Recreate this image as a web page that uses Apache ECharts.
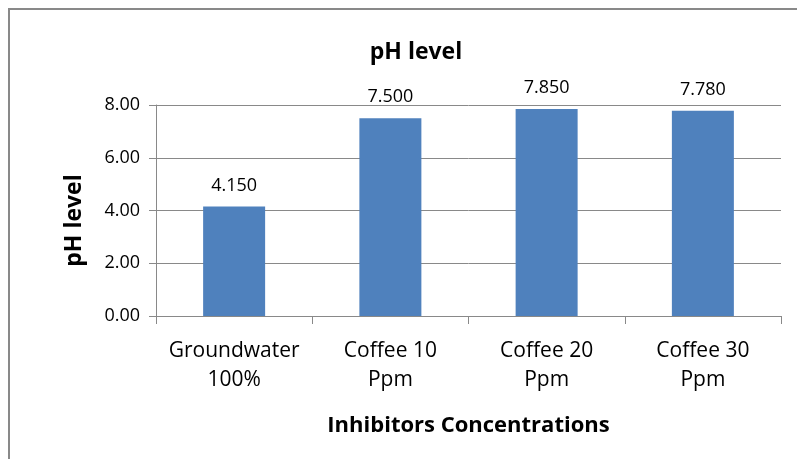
<!DOCTYPE html>
<html><head><meta charset="utf-8">
<script src="https://cdn.jsdelivr.net/npm/echarts@6/dist/echarts.min.js"></script>
<style>html,body{margin:0;padding:0;background:#fff}#c{width:797px;height:459px}</style>
</head><body><div id="c"></div>
<script>
const categories = ['Groundwater\n100%', 'Coffee 10\nPpm', 'Coffee 20\nPpm', 'Coffee 30\nPpm'];
const phValues = [4.15, 7.5, 7.85, 7.78];
const yTicks = {min: 0, max: 8, interval: 2};
const FONT = '"Open Sans", "Liberation Sans", sans-serif';
const chart = echarts.init(document.getElementById('c'));
chart.setOption({
  animation: false,
  backgroundColor: '#fff',
  title: {text: 'pH level', left: 411, top: 36, textAlign: 'center',
    textStyle: {fontFamily: FONT, fontSize: 23, fontWeight: 'bold', color: '#000'}},
  graphic: [{type: 'rect', shape: {x: 9, y: 9, width: 820, height: 480},
    style: {fill: 'none', stroke: '#898989', lineWidth: 2}, silent: true}],
  grid: {left: 156, right: 16, top: 105, bottom: 143},
  xAxis: {type: 'category', data: categories,
    name: 'Inhibitors Concentrations', nameLocation: 'middle', nameGap: 99,
    nameTextStyle: {fontFamily: FONT, fontSize: 22, fontWeight: 'bold', color: '#000'},
    axisLine: {lineStyle: {color: '#898989', width: 1}},
    axisTick: {show: true, length: 8, lineStyle: {color: '#898989'}},
    axisLabel: {interval: 0, fontFamily: FONT, fontSize: 21, color: '#000', margin: 21, lineHeight: 29}},
  yAxis: {type: 'value', min: yTicks.min, max: yTicks.max, interval: yTicks.interval,
    name: 'pH level', nameLocation: 'middle', nameGap: 70, nameRotate: 90,
    nameTextStyle: {fontFamily: FONT, fontSize: 23, fontWeight: 'bold', color: '#000', padding: [0, 20, 0, 0]},
    axisLine: {show: true, lineStyle: {color: '#898989'}},
    axisTick: {show: true, length: 7, inside: false, lineStyle: {color: '#898989'}},
    splitLine: {lineStyle: {color: '#898989', width: 1}},
    axisLabel: {fontFamily: FONT, fontSize: 18, color: '#000', margin: 16,
      formatter: v => v.toFixed(2)}},
  series: [{type: 'bar', data: phValues, barWidth: 62,
    itemStyle: {color: '#4F81BD'},
    label: {show: true, position: 'top', distance: 12, fontFamily: FONT, fontSize: 18, color: '#000',
      formatter: p => p.value.toFixed(3)}}]
});
</script></body></html>
